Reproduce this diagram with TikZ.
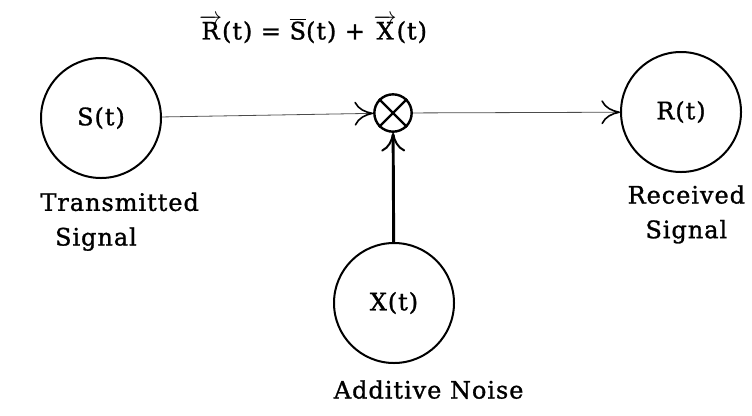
\documentclass[tikz,border=0pt]{standalone}
\usepackage{fontspec}
\setmainfont{DejaVu Serif}[FakeBold=1.2, LetterSpace=4]
\usetikzlibrary{positioning,arrows.meta}

\tikzset{
	block/.style = {draw, circle, line width=1.5pt, minimum size=90pt, inner sep=0pt},
	mixer/.style = {draw, circle, line width=1.8pt, minimum size=28pt, inner sep=0pt},
	lbl/.style = {align=center, inner sep=0pt},
	flow/.style = {line width=0.6pt, black!70, -{Computer Modern Rightarrow[length=14pt, width=18pt, line width=1.2pt, black]}},
	noise/.style = {line width=2.2pt, -{Computer Modern Rightarrow[length=14pt, width=18pt, line width=1.5pt]}}
}

\begin{document}
\begin{tikzpicture} [x = 0.75pt, y = -0.75pt, font = \fontsize{18}{26}\selectfont]
	\useasboundingbox (0,0) rectangle (752,415);
	% source, channel and sink
	\node [block] (s) at (101,118) {S(t)};
	\node [block] (r) at (681,112) {R(t)};
	\node [block] (x) at (394,303) {X(t)};
	\node [mixer] (m) at (393,113) {};
	\draw [line width = 1.8pt] (m.north west) -- (m.south east) (m.north east) -- (m.south west);
	% equation
	\node [lbl] (eq) at (313,29) {$\overrightarrow{\hbox{R}}$(t) = $\overline{\hbox{S}}$(t) + $\overrightarrow{\hbox{X}}$(t)};
	% labels
	\node [lbl, align = left, below = 10pt of s, xshift = 14pt] (slabel) {Transmitted\\\hspace*{11pt}Signal};
	\node [lbl, below = 9pt of r, xshift = 4pt] (rlabel) {Received\\Signal};
	\node [lbl, below = 12pt of x, xshift = 26pt] (xlabel) {Additive Noise};
	% connections
	\draw [flow] (s) -- (m);
	\draw [flow] (m) -- (r);
	\draw [noise] (x) -- (m);
\end{tikzpicture}
\end{document}
